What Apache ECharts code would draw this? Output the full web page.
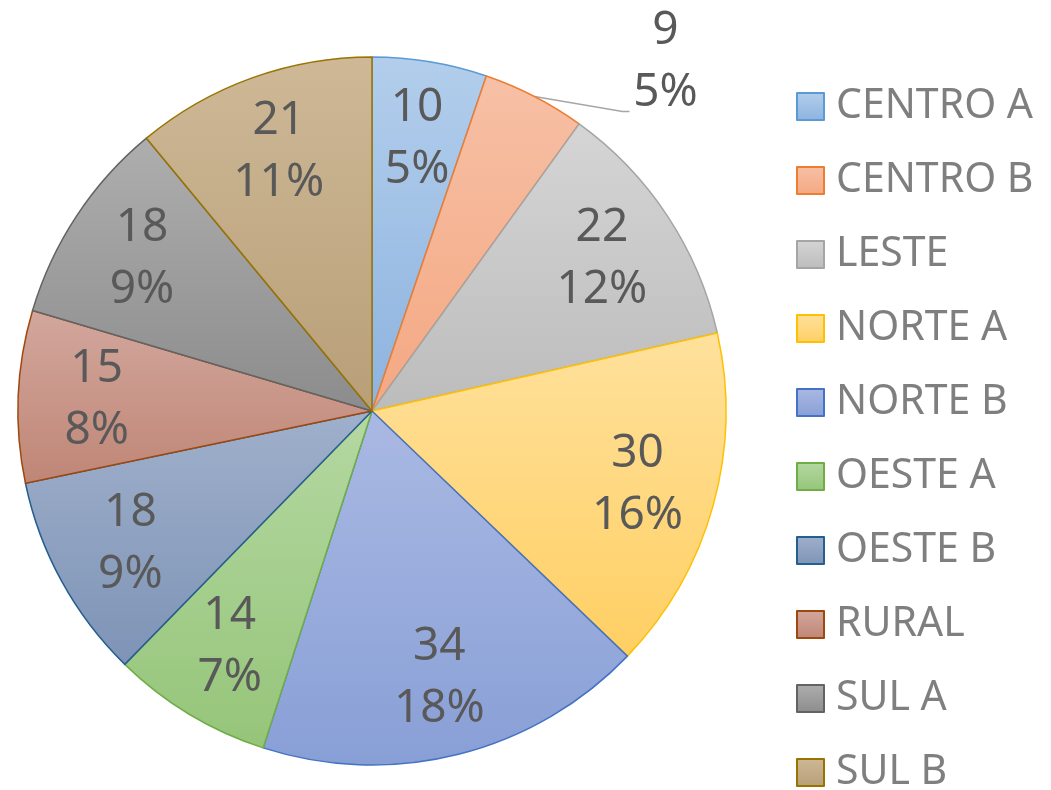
<!DOCTYPE html>
<html>
<head>
<meta charset="utf-8">
<script src="https://cdn.jsdelivr.net/npm/echarts@6/dist/echarts.min.js"></script>
<style>
html,body{margin:0;padding:0;background:#fff;}
#chart{width:1051px;height:790px;}
</style>
</head>
<body>
<div id="chart"></div>
<script>
const categories = ['CENTRO A','CENTRO B','LESTE','NORTE A','NORTE B','OESTE A','OESTE B','RURAL','SUL A','SUL B'];
const values = [10, 9, 22, 30, 34, 14, 18, 15, 18, 21];
const topColors = ['#B3CEEC','#F7C0A6','#D5D5D5','#FFE19C','#AAB9E3','#B5D8A2','#9FB0CB','#D3A79D','#AEAEAE','#CEB896'];
const bottomColors = ['#8DB3DF','#F4A882','#BCBCBC','#FFCF63','#889FD6','#95C579','#7E93B6','#BF8676','#8C8C8C','#B89F78'];
const borderColors = ['#5B9BD5','#ED7D31','#A5A5A5','#FFC000','#4472C4','#70AD47','#255E91','#9E480E','#636363','#997300'];

const total = values.reduce((a, b) => a + b, 0);
const R = 354;
const center = [372, 411];

function grad(i) {
  return new echarts.graphic.LinearGradient(0, 0, 0, 1, [
    { offset: 0, color: topColors[i] },
    { offset: 1, color: bottomColors[i] }
  ]);
}

const mainData = categories.map((name, i) => ({
  name: name,
  value: values[i],
  itemStyle: { color: grad(i), borderColor: borderColors[i], borderWidth: 1.5 }
}));

const labelData = categories.map((name, i) => {
  const item = { name: name, value: values[i] };
  if (i === 1) {
    item.label = { position: 'outside', show: true };
    item.labelLine = { show: true, length: 10, length2: 10, lineStyle: { color: '#A6A6A6', width: 1.5 } };
  } else {
    item.labelLine = { show: false };
  }
  return item;
});

const chart = echarts.init(document.getElementById('chart'), null, { renderer: 'canvas' });
chart.setOption({
  backgroundColor: '#ffffff',
  animation: false,
  legend: {
    type: 'plain',
    orient: 'vertical',
    left: 796,
    top: 86,
    height: 760,
    padding: 0,
    data: categories,
    itemWidth: 27,
    itemHeight: 27,
    itemGap: 33,
    icon: 'rect',
    textStyle: { fontFamily: 'Noto Sans', fontSize: 41, color: '#7F7F7F', padding: [0, 0, 0, 7] },
    selectedMode: false
  },
  series: [
    {
      type: 'pie',
      center: center,
      radius: [0, R],
      startAngle: 90,
      clockwise: true,
      label: { show: false },
      labelLine: { show: false },
      emphasis: { disabled: true },
      data: mainData
    },
    {
      type: 'pie',
      center: center,
      radius: [R * 0.54, R],
      startAngle: 90,
      clockwise: true,
      silent: true,
      itemStyle: { color: 'rgba(0,0,0,0)', borderWidth: 0 },
      emphasis: { disabled: true },
      label: {
        show: true,
        position: 'inside',
        fontFamily: 'Noto Sans',
        fontSize: 46,
        lineHeight: 62,
        color: '#595959',
        align: 'center',
        formatter: p => p.value + '\n' + Math.round(p.value / total * 100) + '%'
      },
      labelLayout: function (params) {
        if (params.dataIndex !== 1 || !params.labelLinePoints) return {};
        const p0 = params.labelLinePoints[0];
        return {
          x: p0[0] + 131,
          y: p0[1] - 35,
          align: 'center',
          verticalAlign: 'middle',
          labelLinePoints: [
            [p0[0], p0[1]],
            [p0[0] + 88, p0[1] + 15],
            [p0[0] + 95, p0[1] + 15]
          ]
        };
      },
      data: labelData
    }
  ]
});
</script>
</body>
</html>
